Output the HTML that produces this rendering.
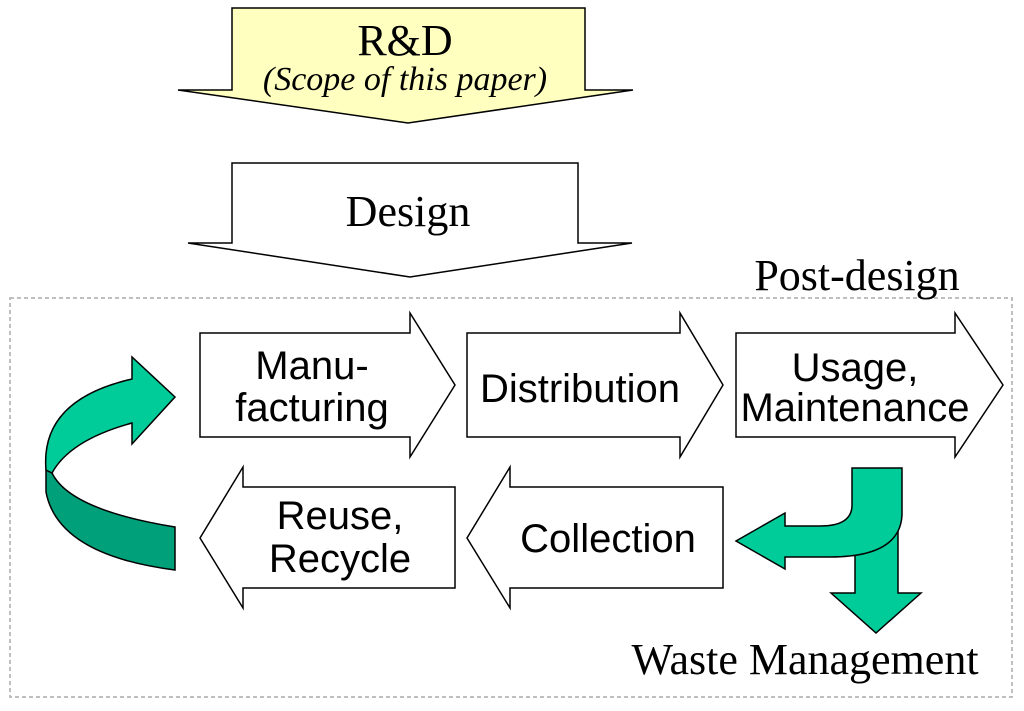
<!DOCTYPE html>
<html><head><meta charset="utf-8"><style>body{margin:0;background:#fff}</style></head><body>
<svg width="1024" height="706" viewBox="0 0 1024 706" xmlns="http://www.w3.org/2000/svg" font-family="Liberation Serif, serif">
<rect x="10" y="298" width="1002" height="399" fill="none" stroke="#aaa" stroke-width="1.5" stroke-dasharray="4,3"/>
<g stroke="#000" stroke-width="1.5">
<polygon points="232,8 585,8 585,90 633,90 408,123 178,90 232,90" fill="#ffffc0"/>
<polygon points="232,163 578,163 578,243 632,243 410,277 188,243 232,243" fill="#fff"/>
<polygon points="200,333 410,333 410,313 455,385 410,457 410,437 200,437" fill="#fff"/>
<polygon points="467,333 680,333 680,313 723,385 680,457 680,437 467,437" fill="#fff"/>
<polygon points="736,333 955,333 955,313 1003,385 955,457 955,437 736,437" fill="#fff"/>
<polygon points="455,487 243,487 243,467 200,538 243,608 243,588 455,588" fill="#fff"/>
<polygon points="723,487 510,487 510,467 467,538 510,608 510,588 723,588" fill="#fff"/>
<polygon points="855,515 855,593 831,593 876,633 921,593 898,593 898,515" fill="#00cc99"/>
<path d="M852,468 L902,468 L902,515 Q900,557 830,557 L785,557 L785,569 L736,541 L785,513 L785,526 L820,526 Q852,526 852,505 Z" fill="#00cc99"/>
<path d="M46,470 L46,492 Q58,555 175,570 L175,527 Q70,510 52,473 Z" fill="#00a07a"/>
<path d="M46,470 Q40,400 132,379 L132,357 L175,397 L132,444 L132,423 Q70,440 52,473 Z" fill="#00cc99"/>
</g>
<g text-anchor="middle" fill="#000" font-size="44">
<text x="405" y="55">R&amp;D</text>
<text x="405" y="90" font-style="italic" font-size="34">(Scope of this paper)</text>
<text x="408" y="226">Design</text>
<text x="857" y="290">Post-design</text>
<text x="805" y="674">Waste Management</text>
</g>
<g text-anchor="middle" fill="#000" font-size="40" font-family="Liberation Sans, sans-serif">
<text x="312" y="379">Manu-</text>
<text x="312" y="421">facturing</text>
<text x="580" y="402">Distribution</text>
<text x="855" y="381">Usage,</text>
<text x="855" y="421">Maintenance</text>
<text x="340" y="529">Reuse,</text>
<text x="340" y="572">Recycle</text>
<text x="608" y="552">Collection</text>
</g>
</svg>
</body></html>
